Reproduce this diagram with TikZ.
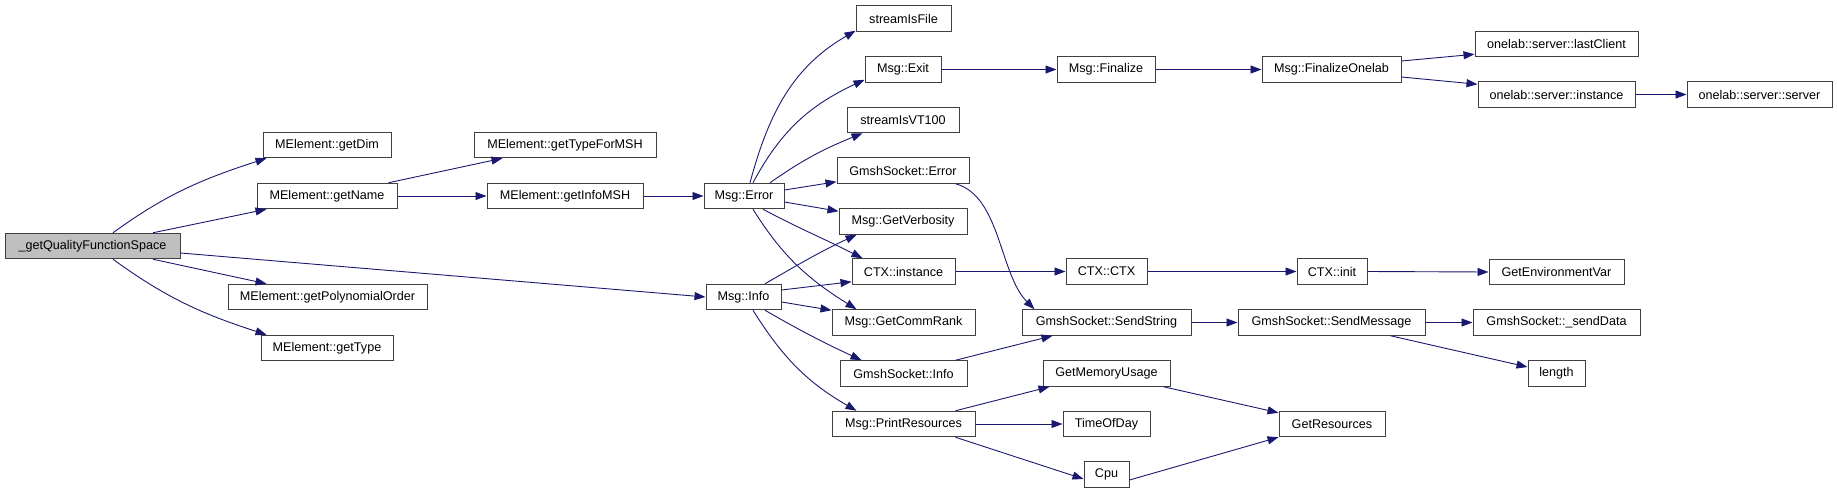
\documentclass[tikz,border=0pt]{standalone}
\usepackage{fontspec}
\setmainfont{Liberation Sans}
\usetikzlibrary{arrows.meta}
\definecolor{edgecol}{HTML}{191970}
\definecolor{bordercol}{HTML}{404040}
\definecolor{rootfill}{HTML}{BFBFBF}
\tikzset{
  fnbox/.style={draw=bordercol, line width=1pt, fill=white, inner sep=0pt,
    minimum height=25.5pt, font=\fontsize{12.6}{14}\selectfont, text=black},
  rootbox/.style={fnbox, fill=rootfill},
  call/.style={draw=edgecol, line width=0.9pt, -{Triangle[length=11pt,width=8pt]}, color=edgecol},
}
\begin{document}
\begin{tikzpicture}[x=1pt,y=-1pt]
\useasboundingbox (0,0) rectangle (1837,493);
% column 0
\node[rootbox, minimum width=175pt] (root) at (92.5,246) {\_getQualityFunctionSpace};
% column 1
\node[fnbox, minimum width=128pt] (getDim) at (327,145) {MElement::getDim};
\node[fnbox, minimum width=140pt] (getName) at (327,196) {MElement::getName};
\node[fnbox, minimum width=199pt] (getPoly) at (327.5,297) {MElement::getPolynomialOrder};
\node[fnbox, minimum width=132pt] (getType) at (327,348) {MElement::getType};
% column 2
\node[fnbox, minimum width=182pt] (getTypeForMSH) at (565,145) {MElement::getTypeForMSH};
\node[fnbox, minimum width=156pt] (getInfoMSH) at (565,196) {MElement::getInfoMSH};
% column 3
\node[fnbox, minimum width=80pt] (msgError) at (744,196) {Msg::Error};
\node[fnbox, minimum width=75pt] (msgInfo) at (743.5,297) {Msg::Info};
% column 4
\node[fnbox, minimum width=95pt] (isFile) at (903.5,18.5) {streamIsFile};
\node[fnbox, minimum width=76pt] (msgExit) at (903,69.5) {Msg::Exit};
\node[fnbox, minimum width=112pt] (isVT) at (903,120) {streamIsVT100};
\node[fnbox, minimum width=132pt] (gsError) at (903,170.5) {GmshSocket::Error};
\node[fnbox, minimum width=128pt] (getVerb) at (903,221.5) {Msg::GetVerbosity};
\node[fnbox, minimum width=103pt] (ctxInst) at (903.5,271.5) {CTX::instance};
\node[fnbox, minimum width=143pt] (commRank) at (903.5,322.5) {Msg::GetCommRank};
\node[fnbox, minimum width=127pt] (gsInfo) at (903.5,373.5) {GmshSocket::Info};
\node[fnbox, minimum width=143pt] (printRes) at (903.5,424) {Msg::PrintResources};
% column 5
\node[fnbox, minimum width=98pt] (finalize) at (1106,69.5) {Msg::Finalize};
\node[fnbox, minimum width=81pt] (ctxCtx) at (1106.5,271.5) {CTX::CTX};
\node[fnbox, minimum width=169pt] (sendString) at (1106.5,322.5) {GmshSocket::SendString};
\node[fnbox, minimum width=127pt] (memUsage) at (1106.5,373.5) {GetMemoryUsage};
\node[fnbox, minimum width=87pt] (timeOfDay) at (1106.5,424) {TimeOfDay};
\node[fnbox, minimum width=45pt] (cpu) at (1106.5,474.5) {Cpu};
% column 6
\node[fnbox, minimum width=139pt] (finOnelab) at (1331.5,69.5) {Msg::FinalizeOnelab};
\node[fnbox, minimum width=70pt] (ctxInit) at (1332,271.5) {CTX::init};
\node[fnbox, minimum width=187pt] (sendMsg) at (1331.5,322.5) {GmshSocket::SendMessage};
\node[fnbox, minimum width=106pt] (getRes) at (1332,424) {GetResources};
% column 7
\node[fnbox, minimum width=163pt] (lastClient) at (1556.5,44) {onelab::server::lastClient};
\node[fnbox, minimum width=157pt] (osInst) at (1556.5,94.5) {onelab::server::instance};
\node[fnbox, minimum width=135pt] (getEnv) at (1556.5,272) {GetEnvironmentVar};
\node[fnbox, minimum width=167pt] (sendData) at (1556.5,322.5) {GmshSocket::\_sendData};
\node[fnbox, minimum width=57pt] (length) at (1556.5,373.5) {length};
% column 8
\node[fnbox, minimum width=145pt] (osServer) at (1759.5,94.5) {onelab::server::server};

% edges from root
\draw[call] ([xshift=20.5pt]root.north) to[out=36,in=198] ([xshift=4pt]getDim.south west);
\draw[call] ([xshift=60.5pt]root.north) -- ([xshift=10pt]getName.south west);
\draw[call] ([yshift=-7pt]root.east) -- (msgInfo.west);
\draw[call] ([xshift=60.5pt]root.south) -- ([xshift=39pt]getPoly.north west);
\draw[call] ([xshift=20.5pt]root.south) to[out=-36,in=162] ([xshift=6pt]getType.north west);
% getName
\draw[call] ([xshift=-9pt]getName.north east) -- ([xshift=29pt]getTypeForMSH.south west);
\draw[call] (getName.east) -- (getInfoMSH.west);
\draw[call] (getInfoMSH.east) -- (msgError.west);
% Msg::Error
\draw[call] ([xshift=6pt]msgError.north) to[out=75,in=-150] ([yshift=1pt]isFile.south west);
\draw[call] ([xshift=9pt]msgError.north) to[out=62,in=-155] ([yshift=3pt]msgExit.south west);
\draw[call] ([xshift=26pt]msgError.north) to[out=35,in=-158] ([xshift=16pt]isVT.south west);
\draw[call] ([yshift=6pt]msgError.east) -- ([yshift=2pt]gsError.south west);
\draw[call] ([yshift=-6pt]msgError.east) -- ([yshift=-3pt]getVerb.north west);
\draw[call] ([xshift=19pt]msgError.south) to[out=-28,in=153] ([xshift=11pt]ctxInst.north west);
\draw[call] ([xshift=9pt]msgError.south) to[out=-58,in=148] ([xshift=25pt]commRank.north west);
% Msg::Info
\draw[call] ([xshift=21.5pt]msgInfo.north) to[out=30,in=-155] ([xshift=18pt]getVerb.south west);
\draw[call] ([yshift=7pt]msgInfo.east) -- ([yshift=3pt]ctxInst.south west);
\draw[call] ([yshift=-5pt]msgInfo.east) -- ([yshift=-1pt]commRank.north west);
\draw[call] ([xshift=21.5pt]msgInfo.south) to[out=-30,in=155] ([xshift=22pt]gsInfo.north west);
\draw[call] ([xshift=9.5pt]msgInfo.south) to[out=-58,in=150] ([xshift=25pt]printRes.north west);
% right part
\draw[call] (msgExit.east) -- (finalize.west);
\draw[call] (finalize.east) -- (finOnelab.west);
\draw[call] ([yshift=8.5pt]finOnelab.east) -- ([yshift=3pt]lastClient.south west);
\draw[call] ([yshift=-7.5pt]finOnelab.east) -- ([yshift=-3pt]osInst.north west);
\draw[call] (osInst.east) -- (osServer.west);
\draw[call] ([xshift=-14pt]gsError.south east) .. controls +(45,12) and +(-35,-35) .. ([xshift=13pt]sendString.north west);
\draw[call] (ctxInst.east) -- (ctxCtx.west);
\draw[call] (ctxCtx.east) -- (ctxInit.west);
\draw[call] (ctxInit.east) -- (getEnv.west);
\draw[call] ([xshift=-12pt]gsInfo.north east) -- ([xshift=31pt]sendString.south west);
\draw[call] (sendString.east) -- (sendMsg.west);
\draw[call] (sendMsg.east) -- (sendData.west);
\draw[call] ([xshift=-35pt]sendMsg.south east) -- ([yshift=6.5pt]length.west);
\draw[call] ([xshift=-20pt]printRes.north east) -- ([xshift=7pt]memUsage.south west);
\draw[call] (printRes.east) -- (timeOfDay.west);
\draw[call] ([xshift=-20pt]printRes.south east) -- ([yshift=-4.5pt]cpu.west);
\draw[call] ([xshift=-7pt]memUsage.south east) -- ([yshift=-2pt]getRes.north west);
\draw[call] ([yshift=-5.5pt]cpu.east) -- (getRes.south west);
\end{tikzpicture}
\end{document}
